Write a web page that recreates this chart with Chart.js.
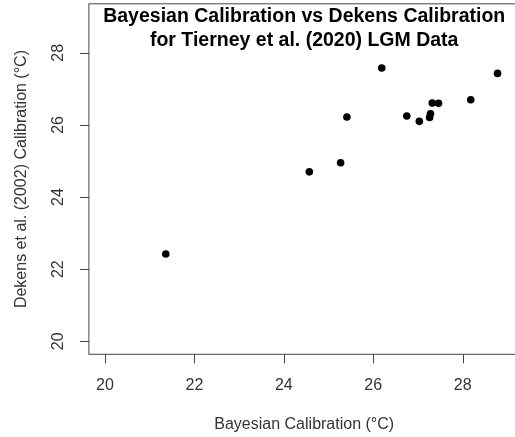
<!DOCTYPE html>
<html>
<head>
<meta charset="utf-8">
<script src="https://cdn.jsdelivr.net/npm/chart.js@4/dist/chart.umd.min.js"></script>
<style>
  html, body { margin: 0; padding: 0; overflow: hidden; background: #fff; }
</style>
</head>
<body>
<canvas id="scatter" width="530" height="437"></canvas>
<script>
// values
const bayesian = [21.36, 24.57, 25.27, 25.41, 26.19, 26.75, 27.03, 27.26, 27.28, 27.32, 27.46, 28.18, 28.78];
const dekens   = [22.42, 24.70, 24.95, 26.22, 27.58, 26.25, 26.10, 26.21, 26.31, 26.61, 26.60, 26.70, 27.43];
const xTicks = [20, 22, 24, 26, 28];
const yTicks = [20, 22, 24, 26, 28];
const titleLines = ['Bayesian Calibration vs Dekens Calibration', 'for Tierney et al. (2020) LGM Data'];
const xTitle = 'Bayesian Calibration (°C)';
const yTitle = 'Dekens et al. (2002) Calibration (°C)';

const FONT = '"Liberation Sans", Arial, sans-serif';
const AXIS_COLOR = '#444';
const TEXT_COLOR = '#333';

// base-graphics style frame, ticks and labels
const rFrame = {
  id: 'rFrame',
  afterDraw(chart) {
    const { ctx, chartArea: a, scales: { x, y } } = chart;
    ctx.save();
    ctx.strokeStyle = AXIS_COLOR;
    ctx.lineWidth = 1;
    ctx.strokeRect(a.left, a.top, a.right - a.left, a.bottom - a.top);

    ctx.beginPath();
    xTicks.forEach(t => {
      const px = Math.round(x.getPixelForValue(t)) + 0.5;
      ctx.moveTo(px, a.bottom);
      ctx.lineTo(px, a.bottom + 9);
    });
    yTicks.forEach(t => {
      const py = Math.round(y.getPixelForValue(t)) + 0.5;
      ctx.moveTo(a.left, py);
      ctx.lineTo(a.left - 9, py);
    });
    ctx.stroke();

    ctx.fillStyle = TEXT_COLOR;
    ctx.font = '16px ' + FONT;
    ctx.textAlign = 'center';
    ctx.textBaseline = 'middle';
    xTicks.forEach(t => ctx.fillText(String(t), x.getPixelForValue(t), a.bottom + 31));
    yTicks.forEach(t => {
      ctx.save();
      ctx.translate(a.left - 30, y.getPixelForValue(t));
      ctx.rotate(-Math.PI / 2);
      ctx.fillText(String(t), 0, 0);
      ctx.restore();
    });

    const midX = (a.left + a.right) / 2 - 2;
    const midY = (a.top + a.bottom) / 2;
    ctx.fillText(xTitle, midX, a.bottom + 70);
    ctx.save();
    ctx.translate(22, midY);
    ctx.rotate(-Math.PI / 2);
    ctx.fillText(yTitle, 0, 0);
    ctx.restore();

    ctx.fillStyle = '#000';
    ctx.font = 'bold 19.5px ' + FONT;
    ctx.textBaseline = 'alphabetic';
    titleLines.forEach((line, i) => ctx.fillText(line, midX, 21.7 + i * 24));
    ctx.restore();
  }
};

new Chart(document.getElementById('scatter').getContext('2d'), {
  type: 'scatter',
  data: {
    datasets: [{
      data: bayesian.map((v, i) => ({ x: v, y: dekens[i] })),
      pointRadius: 3.8,
      pointHoverRadius: 3.8,
      pointBackgroundColor: '#000',
      pointBorderColor: '#000',
      pointBorderWidth: 0,
    }],
  },
  options: {
    responsive: false,
    animation: false,
    events: [],
    layout: {
      padding: { left: 88.9, right: 6.5, top: 3.6, bottom: 82.7 },
    },
    plugins: {
      legend: { display: false },
      tooltip: { enabled: false },
    },
    scales: {
      x: { type: 'linear', min: 19.64, max: 29.36, display: false },
      y: { type: 'linear', min: 19.64, max: 29.36, display: false },
    },
  },
  plugins: [rFrame],
});
</script>
</body>
</html>
